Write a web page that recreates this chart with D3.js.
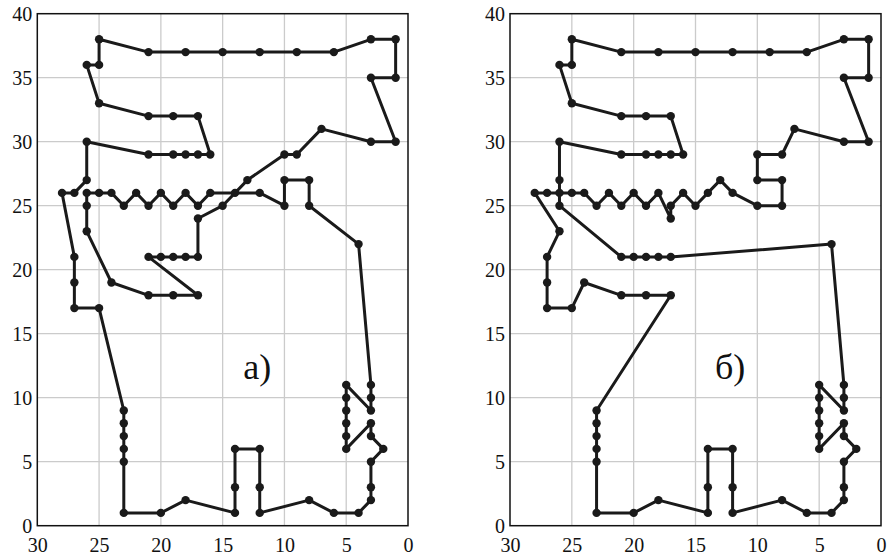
<!DOCTYPE html>
<html>
<head>
<meta charset="utf-8">
<script src="https://cdn.jsdelivr.net/npm/d3@7"></script>
<style>
  body { margin: 0; background: #fff; }
</style>
</head>
<body>
<svg id="chart" width="892" height="559"></svg>
<script>
// tick values
var xTicks = [30, 25, 20, 15, 10, 5, 0];
var yTicks = [0, 5, 10, 15, 20, 25, 30, 35, 40];

// tour a) : points in visiting order [x, y]
var tourA = [
  [25,38],[21,37],[18,37],[15,37],[12,37],[9,37],[6,37],[3,38],[1,38],[1,35],[3,35],[1,30],[3,30],[7,31],
  [9,29],[10,29],[13,27],[15,25],[17,24],[17,21],[18,21],[19,21],[20,21],[21,21],[17,18],[19,18],[21,18],
  [24,19],[26,23],[26,25],[26,26],[25,26],[24,26],[23,25],[22,26],[21,25],[20,26],[19,25],[18,26],[17,25],
  [16,26],[14,26],[12,26],[10,25],[10,27],[8,27],[8,25],[4,22],[3,11],[3,10],[3,9],[5,11],[5,10],[5,9],
  [5,8],[5,7],[5,6],[3,8],[3,7],[2,6],[3,5],[3,3],[3,2],[4,1],[6,1],[8,2],[12,1],[12,3],[12,6],[14,6],
  [14,3],[14,1],[18,2],[20,1],[23,1],[23,5],[23,6],[23,7],[23,8],[23,9],[25,17],[27,17],[27,19],[27,21],
  [28,26],[27,26],[26,27],[26,30],[21,29],[19,29],[18,29],[17,29],[16,29],[17,32],[19,32],[21,32],[25,33],
  [26,36],[25,36]
];

// tour б)
var tourB = [
  [25,38],[21,37],[18,37],[15,37],[12,37],[9,37],[6,37],[3,38],[1,38],[1,35],[3,35],[1,30],[3,30],[7,31],
  [8,29],[10,29],[10,27],[8,27],[8,25],[10,25],[12,26],[13,27],[14,26],[15,25],[16,26],[17,25],[17,24],
  [18,26],[19,25],[20,26],[21,25],[22,26],[23,25],[24,26],[25,26],[26,26],[27,26],[28,26],[26,23],[27,21],
  [27,19],[27,17],[25,17],[24,19],[21,18],[19,18],[17,18],[23,9],[23,8],[23,7],[23,6],[23,5],[23,1],[20,1],
  [18,2],[14,1],[14,3],[14,6],[12,6],[12,3],[12,1],[8,2],[6,1],[4,1],[3,2],[3,3],[3,5],[2,6],[3,7],[3,8],
  [5,6],[5,7],[5,8],[5,9],[5,10],[5,11],[3,9],[3,10],[3,11],[4,22],[17,21],[18,21],[19,21],[20,21],[21,21],
  [26,25],[26,27],[26,30],[21,29],[19,29],[18,29],[17,29],[16,29],[17,32],[19,32],[21,32],[25,33],[26,36],
  [25,36]
];

var labels = ["а)", "б)"];

var serif = "'Liberation Serif', 'Times New Roman', 'DejaVu Serif', serif";
var svg = d3.select("#chart");
var plotTop = 13.7, plotBottom = 525.7;

var panels = [
  { tour: tourA, left: 37.3, right: 408, label: labels[0] },
  { tour: tourB, left: 510, right: 881, label: labels[1] }
];

panels.forEach(function(p) {
  var x = d3.scaleLinear().domain([30, 0]).range([p.left, p.right]);
  var y = d3.scaleLinear().domain([0, 40]).range([plotBottom, plotTop]);
  var g = svg.append("g");

  // grid
  g.append("g").selectAll("line")
    .data(xTicks.slice(1, -1))
    .join("line")
    .attr("x1", d => x(d)).attr("x2", d => x(d))
    .attr("y1", plotTop).attr("y2", plotBottom)
    .attr("stroke", "#cbcbcb").attr("stroke-width", 1.3);
  g.append("g").selectAll("line")
    .data(yTicks.slice(1, -1))
    .join("line")
    .attr("x1", p.left).attr("x2", p.right)
    .attr("y1", d => y(d)).attr("y2", d => y(d))
    .attr("stroke", "#cbcbcb").attr("stroke-width", 1.3);

  // axes (labels only)
  var xa = g.append("g")
    .attr("transform", "translate(0," + plotBottom + ")")
    .call(d3.axisBottom(x).tickValues(xTicks).tickSize(0).tickPadding(12));
  var ya = g.append("g")
    .attr("transform", "translate(" + (p.left - 1) + ",0)")
    .call(d3.axisLeft(y).tickValues(yTicks).tickSize(0).tickPadding(4));
  [xa, ya].forEach(function(a) {
    a.attr("font-family", null).attr("font-size", null);
    a.select(".domain").remove();
    a.selectAll("text")
      .style("font-family", serif)
      .style("font-size", "20px")
      .attr("fill", "#111");
  });

  // frame
  g.append("rect")
    .attr("x", p.left).attr("y", plotTop)
    .attr("width", p.right - p.left).attr("height", plotBottom - plotTop)
    .attr("fill", "none").attr("stroke", "#111").attr("stroke-width", 1.5);

  // tour
  var line = d3.line().x(d => x(d[0])).y(d => y(d[1])).curve(d3.curveLinearClosed);
  g.append("path")
    .datum(p.tour)
    .attr("d", line)
    .attr("fill", "none")
    .attr("stroke", "#1a1a1a")
    .attr("stroke-width", 3)
    .attr("stroke-linejoin", "round");

  g.append("g").selectAll("circle")
    .data(p.tour)
    .join("circle")
    .attr("cx", d => x(d[0]))
    .attr("cy", d => y(d[1]))
    .attr("r", 4.2)
    .attr("fill", "#1a1a1a");

  g.append("text")
    .attr("x", x(12.2))
    .attr("y", y(11.5))
    .attr("text-anchor", "middle")
    .style("font-family", serif)
    .style("font-size", "36px")
    .attr("fill", "#111")
    .text(p.label);
});
</script>
</body>
</html>
